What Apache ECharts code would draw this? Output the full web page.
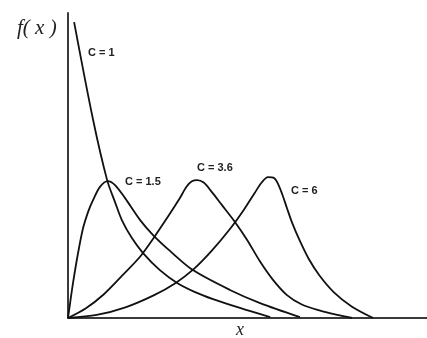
<!DOCTYPE html>
<html>
<head>
<meta charset="utf-8">
<script src="https://cdn.jsdelivr.net/npm/echarts@6/dist/echarts.min.js"></script>
<style>html,body{margin:0;padding:0;background:#fff;}#c{width:427px;height:338px;}</style>
</head>
<body>
<div id="c"></div>
<script>
// Curve data (arbitrary units: x 0..10, y 0..10)
var c1X = [0.17, 0.7, 1.09, 1.31, 1.5, 1.78, 2.09, 2.56, 3.04, 3.54, 4.04, 4.79, 5.63];
var c1Y = [9.7, 6.49, 4.52, 3.8, 3.21, 2.62, 2.13, 1.57, 1.15, 0.85, 0.62, 0.33, 0.03];

var c15X = [0, 0.06, 0.14, 0.28, 0.42, 0.56, 0.7, 0.89, 1.11, 1.31, 1.59, 2.01, 2.37, 2.84, 3.48, 4.51, 5.35, 6.46];
var c15Y = [0, 0.5, 1.15, 2.13, 2.95, 3.48, 3.87, 4.3, 4.49, 4.36, 3.93, 3.21, 2.72, 2.2, 1.57, 0.92, 0.49, 0.03];

var c36X = [0, 0.5, 1.0, 1.5, 2.0, 2.4, 2.8, 3.1, 3.3, 3.45, 3.6, 3.78, 3.96, 4.29, 4.65, 4.99, 5.35, 5.71, 6.1, 6.5, 7.0, 7.5, 7.91];
var c36Y = [0, 0.32, 0.78, 1.38, 2.0, 2.65, 3.35, 3.9, 4.3, 4.48, 4.52, 4.44, 4.2, 3.7, 3.15, 2.56, 1.85, 1.25, 0.75, 0.45, 0.25, 0.1, 0];

var c6X = [0, 0.8, 1.6, 2.4, 3.0, 3.5, 4.0, 4.5, 4.9, 5.2, 5.4, 5.57, 5.74, 5.85, 5.97, 6.1, 6.25, 6.45, 6.7, 7.0, 7.4, 7.9, 8.5];
var c6Y = [0, 0.1, 0.35, 0.75, 1.15, 1.6, 2.2, 2.9, 3.55, 4.1, 4.45, 4.62, 4.59, 4.4, 4.05, 3.6, 3.1, 2.55, 1.95, 1.4, 0.85, 0.38, 0];

var curveNames = ['C = 1', 'C = 1.5', 'C = 3.6', 'C = 6'];

function zip(xs, ys) { return xs.map(function (x, i) { return [x, ys[i]]; }); }

var allData = [zip(c1X, c1Y), zip(c15X, c15Y), zip(c36X, c36Y), zip(c6X, c6Y)];

var chart = echarts.init(document.getElementById('c'), null, {renderer: 'canvas'});
var axisStyle = {show: true, lineStyle: {color: '#3a3a3a', width: 2}};
chart.setOption({
  animation: false,
  backgroundColor: '#fff',
  grid: {left: 68, right: 0, top: 13, bottom: 20},
  xAxis: {type: 'value', min: 0, max: 10, axisLine: axisStyle, axisTick: {show: false}, axisLabel: {show: false}, splitLine: {show: false}},
  yAxis: {type: 'value', min: 0, max: 10, axisLine: axisStyle, axisTick: {show: false}, axisLabel: {show: false}, splitLine: {show: false}},
  series: allData.map(function (d, i) {
    return {
      name: curveNames[i], type: 'line', data: d, showSymbol: false, smooth: 0.3,
      lineStyle: {color: '#111', width: 1.8}, z: 3
    };
  }),
  graphic: [
    {type: 'text', left: 17, top: 18, style: {text: 'f( x )', font: 'italic 21px "Liberation Serif"', fill: '#222'}},
    {type: 'text', left: 236, top: 321, style: {text: 'x', font: 'italic 18px "Liberation Serif"', fill: '#222'}},
    {type: 'text', left: 88, top: 47, style: {text: curveNames[0], font: 'bold 11px "Liberation Sans"', fill: '#222'}},
    {type: 'text', left: 125, top: 176, style: {text: curveNames[1], font: 'bold 11px "Liberation Sans"', fill: '#222'}},
    {type: 'text', left: 197, top: 162, style: {text: curveNames[2], font: 'bold 11px "Liberation Sans"', fill: '#222'}},
    {type: 'text', left: 291, top: 185, style: {text: curveNames[3], font: 'bold 11px "Liberation Sans"', fill: '#222'}}
  ]
});
</script>
</body>
</html>
